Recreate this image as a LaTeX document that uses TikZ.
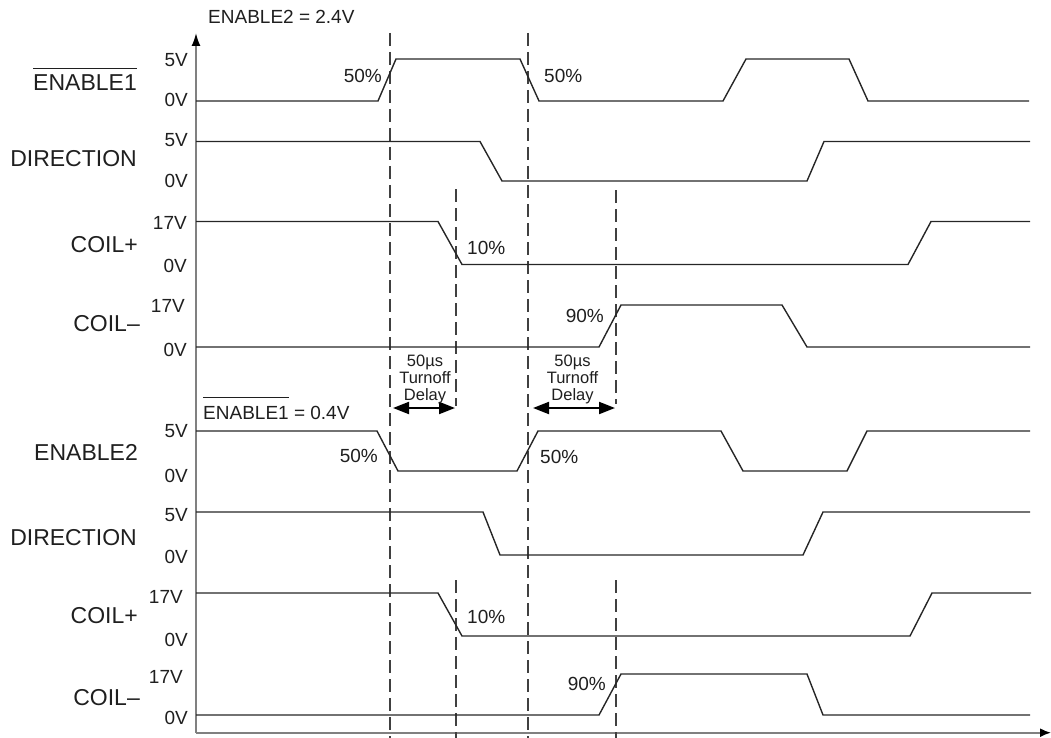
\documentclass[tikz,border=0pt]{standalone}
\usepackage{fontspec}
\setmainfont{Liberation Sans}
\usetikzlibrary{arrows.meta}
\newcommand\olbar[2]{\leavevmode\vbox{\hrule height 1.4pt\kern #2\hbox{#1}}}
\tikzset{
  wave/.style={line width=1.4pt, draw=black!85, line join=miter},
  guide/.style={line width=1.3pt, draw=black!75, dash pattern=on 13pt off 6pt},
  axisline/.style={line width=1.8pt, draw=black!50},
  big/.style={font=\fontsize{23}{27}\selectfont, text=black!88, inner sep=0pt},
  mid/.style={font=\fontsize{19}{22}\selectfont, text=black!88, inner sep=0pt},
  small/.style={font=\fontsize{16.5}{17}\selectfont, text=black!88, inner sep=0pt, align=center},
  delay/.style={line width=2pt, draw=black, {Triangle[length=16pt,width=12pt]}-{Triangle[length=16pt,width=12pt]}},
}
\begin{document}
\begin{tikzpicture}[x=1pt,y=-1pt]
\useasboundingbox (0,0) rectangle (1051,738);
% axes
\coordinate (O) at (196,732.7);
\coordinate (Ytop) at (196,33);
\coordinate (Xend) at (1051,732.7);
\draw[axisline,-{Latex[length=13pt,width=9pt,color=black]}] (O) -- (Ytop);
\draw[axisline,-{Latex[length=11pt,width=9pt,color=black]}] (O) -- (Xend);

% guide lines
\draw[guide] (390,33) -- (390,738);
\draw[guide] (528,33) -- (528,738);
\draw[guide] (456,189) -- (456,406);
\draw[guide] (616,190) -- (616,404);
\draw[guide] (456,580) -- (456,738);
\draw[guide] (616,580) -- (616,738);

% top waveforms
\draw[wave] (196,101) -- (378,101) -- (396,59) -- (520,59) -- (539,101) -- (723,101) -- (746,59) -- (849,59) -- (868,101) -- (1029,101);
\draw[wave] (196,141.5) -- (480,141.5) -- (502,181) -- (807,181) -- (824,141.5) -- (1030,141.5);
\draw[wave] (196,221.5) -- (438,221.5) -- (462,264.5) -- (908,264.5) -- (931,221.5) -- (1030,221.5);
\draw[wave] (196,347) -- (599,347) -- (621,305) -- (782,305) -- (807,347) -- (1030,347);
% bottom waveforms
\draw[wave] (196,431) -- (377,431) -- (398,471) -- (517,471) -- (538,431) -- (721,431) -- (743,471) -- (847,471) -- (867,431) -- (1030,431);
\draw[wave] (196,512) -- (483,512) -- (500,555) -- (803,555) -- (823,512) -- (1030,512);
\draw[wave] (196,593) -- (438,593) -- (462,636) -- (910,636) -- (932,593) -- (1031,593);
\draw[wave] (196,715) -- (599,715) -- (621,674) -- (807,674) -- (823,715) -- (1030,715);

% turnoff delay arrows
\coordinate (ta1) at (390,408);
\coordinate (tb1) at (456,408);
\coordinate (ta2) at (528,408);
\coordinate (tb2) at (616,408);
\draw[delay, shorten <=3pt, shorten >=1pt] (ta1) -- (tb1);
\draw[delay, shorten <=5pt, shorten >=1pt] (ta2) -- (tb2);
\node[small] (td1) at (425,379) {50µs\\Turnoff\\Delay};
\node[small] (td2) at (572.5,379) {50µs\\Turnoff\\Delay};

% headers
\node[mid, anchor=base west] (h1) at (208,24) {ENABLE2 = 2.4V};
\node[mid, anchor=base west] (h2) at (203,419) {\olbar{ENABLE1}{7.5pt} = 0.4V};

% signal names
\node[big, anchor=base east] (n1) at (137,91) {\olbar{ENABLE1}{6pt}};
\node[big, anchor=base east] (n2) at (137,167) {DIRECTION};
\node[big, anchor=base east] (n3) at (138,252) {COIL+};
\node[big, anchor=base east] (n4) at (140,331) {COIL–};
\node[big, anchor=base east] (n5) at (138,460) {ENABLE2};
\node[big, anchor=base east] (n6) at (137,545) {DIRECTION};
\node[big, anchor=base east] (n7) at (138,623) {COIL+};
\node[big, anchor=base east] (n8) at (140,705) {COIL–};

% voltage levels
\node[mid, anchor=base east] (v1) at (188,67) {5V};
\node[mid, anchor=base east] (v2) at (188,107) {0V};
\node[mid, anchor=base east] (v3) at (188,147) {5V};
\node[mid, anchor=base east] (v4) at (188,187) {0V};
\node[mid, anchor=base east] (v5) at (187,229) {17V};
\node[mid, anchor=base east] (v6) at (187,272) {0V};
\node[mid, anchor=base east] (v7) at (185,312) {17V};
\node[mid, anchor=base east] (v8) at (187,356) {0V};
\node[mid, anchor=base east] (v9) at (188,437) {5V};
\node[mid, anchor=base east] (v10) at (188,482) {0V};
\node[mid, anchor=base east] (v11) at (188,521) {5V};
\node[mid, anchor=base east] (v12) at (188,563) {0V};
\node[mid, anchor=base east] (v13) at (183,603) {17V};
\node[mid, anchor=base east] (v14) at (188,646) {0V};
\node[mid, anchor=base east] (v15) at (183,683) {17V};
\node[mid, anchor=base east] (v16) at (188,724) {0V};

% percentages
\node[mid, anchor=base east] (p1) at (382,83) {50\%};
\node[mid, anchor=base west] (p2) at (544,83) {50\%};
\node[mid, anchor=base west] (p3) at (467,254) {10\%};
\node[mid, anchor=base east] (p4) at (604,322) {90\%};
\node[mid, anchor=base east] (p5) at (378,462) {50\%};
\node[mid, anchor=base west] (p6) at (540,463) {50\%};
\node[mid, anchor=base west] (p7) at (467,623) {10\%};
\node[mid, anchor=base east] (p8) at (606,690) {90\%};
\end{tikzpicture}
\end{document}
